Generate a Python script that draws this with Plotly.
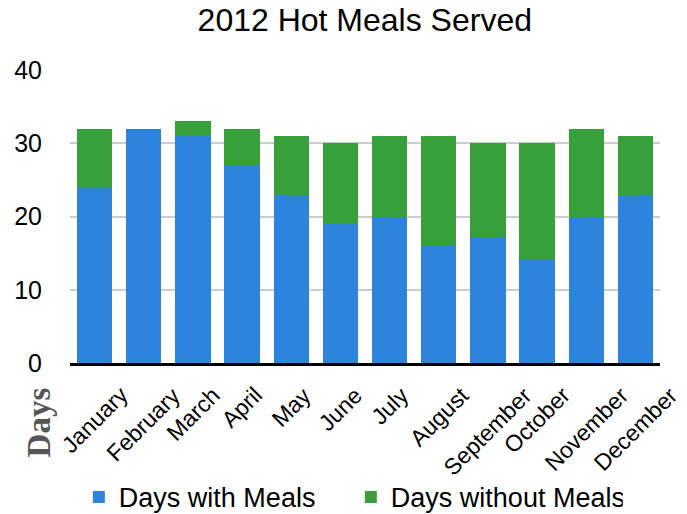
import plotly.graph_objects as go

months = ["January", "February", "March", "April", "May", "June", "July",
          "August", "September", "October", "November", "December"]
with_meals = [24, 32, 31, 27, 23, 19, 20, 16, 17, 14, 20, 23]
without_meals = [8, 0, 2, 5, 8, 11, 11, 15, 13, 16, 12, 8]
y_ticks = [0, 10, 20, 30, 40]

fig = go.Figure()
fig.add_trace(go.Bar(x=months, y=with_meals, name="Days with Meals",
                     marker=dict(color="#2C84DC", line=dict(width=0))))
fig.add_trace(go.Bar(x=months, y=without_meals, name="Days without Meals",
                     marker=dict(color="#38A03A", line=dict(width=0))))

# month labels: rotated, centred under each bar, tops aligned
for m in months:
    fig.add_annotation(text=m, x=m, xref="x", y=-0.055, yref="paper",
                       xanchor="center", yanchor="top", textangle=-45,
                       showarrow=False, font=dict(size=23))

fig.add_annotation(text="<b>Days</b>", textangle=-90, xref="paper", yref="paper",
                   x=-0.051, y=-0.203, xanchor="center", yanchor="middle",
                   showarrow=False,
                   font=dict(family="Liberation Serif, DejaVu Serif, serif",
                             size=33, color="#555555"))

fig.update_layout(
    barmode="stack",
    bargap=0.28,
    width=687, height=514,
    paper_bgcolor="white", plot_bgcolor="white",
    margin=dict(l=70, r=27, t=70, b=151, autoexpand=False),
    font=dict(family="Liberation Sans, Arial, sans-serif", color="black"),
    title=dict(text="2012 Hot Meals Served", x=0.531, xanchor="center",
               y=0.961, yanchor="middle", font=dict(size=32)),
    showlegend=True,
    legend=dict(orientation="h", x=0.476, xanchor="center", y=-0.375, yanchor="top",
                font=dict(size=27), itemwidth=30, traceorder="normal",
                entrywidth=227, entrywidthmode="pixels"),
    xaxis=dict(showticklabels=False, showline=True, range=[-0.5, len(months) - 0.5],
               linecolor="black", linewidth=3, ticks="", showgrid=False,
               automargin=False),
    yaxis=dict(range=[0, 40], tickvals=y_ticks, tickfont=dict(size=25),
               showgrid=True, gridcolor="#CCCCCC", gridwidth=2, zeroline=False,
               showline=False, ticks="", ticklen=0, automargin=False,
               ticklabelstandoff=27),
)
fig.write_html("out.html", config={"displayModeBar": False},
               post_script="document.body.style.margin='0';")
